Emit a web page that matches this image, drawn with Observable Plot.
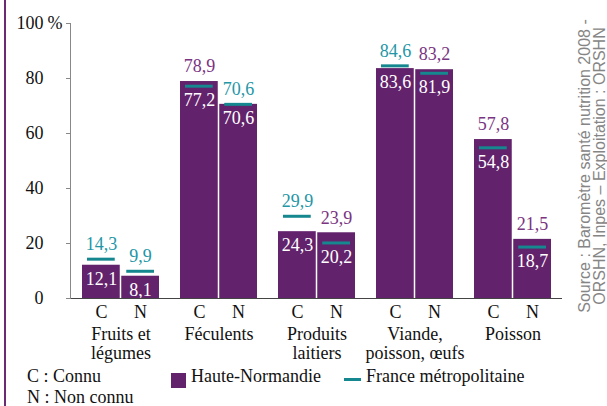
<!DOCTYPE html>
<html>
<head>
<meta charset="utf-8">
<script src="https://cdn.jsdelivr.net/npm/d3@7"></script>
<script src="https://cdn.jsdelivr.net/npm/@observablehq/plot@0.6"></script>
<style>
  html, body { margin: 0; padding: 0; background: #fff; }
  #wrap { position: relative; width: 607px; height: 406px; overflow: hidden; background: #fff;
          font-family: "Liberation Serif", "Times New Roman", serif; color: #111; }
  #wrap > svg { position: absolute; left: 0; top: 0; }
  .lg { position: absolute; font-size: 18px; line-height: 16px; white-space: nowrap; }
  #border { position: absolute; left: 4px; top: 0; width: 2px; height: 406px; background: #6a2a74; }
</style>
</head>
<body>
<div id="wrap">
  <div id="border"></div>
  <div class="lg" style="left:27px; top:368px;">C : Connu</div>
  <div class="lg" style="left:27px; top:389px;">N : Non connu</div>
  <div style="position:absolute; left:171px; top:373px; width:15px; height:15px; background:#63236c;"></div>
  <div class="lg" style="left:191px; top:368px;">Haute-Normandie</div>
  <div style="position:absolute; left:344px; top:378px; width:17px; height:3px; background:#14878f;"></div>
  <div class="lg" style="left:366px; top:368px;">France métropolitaine</div>
</div>
<script>
// ---- data ----
const categories = ["Fruits et légumes", "Féculents", "Produits laitiers", "Viande, poisson, œufs", "Poisson"];
const categoryLabels = ["Fruits et\nlégumes", "Féculents", "Produits\nlaitiers", "Viande,\npoisson, œufs", "Poisson"];
const statusLabels = ["C", "N"];
const hnConnu    = [12.1, 78.9, 24.3, 83.6, 57.8];
const hnNonConnu = [8.1, 70.6, 23.9, 83.2, 21.5];
const frConnu    = [14.3, 77.2, 29.9, 84.6, 54.8];
const frNonConnu = [9.9, 70.6, 20.2, 81.9, 18.7];
const yTicks = [0, 20, 40, 60, 80, 100];
const sourceLines = ["Source : Baromètre santé nutrition 2008 -", "ORSHN, Inpes – Exploitation : ORSHN"];

// ---- styles ----
const purple = "#63236c";
const purpleText = "#7a3482";
const teal = "#14878f";
const tealText = "#2496a6";

const rowsC = categories.map((cat, i) => ({cat, status: "C", hn: hnConnu[i], fr: frConnu[i]}));
const rowsN = categories.map((cat, i) => ({cat, status: "N", hn: hnNonConnu[i], fr: frNonConnu[i]}));
const fmt = v => v.toFixed(1).replace(".", ",");
const hiVal = d => Math.max(d.hn, d.fr);
const loVal = d => Math.min(d.hn, d.fr);
const hiText = d => fmt(d.hn > d.fr ? d.hn : d.fr);
const loText = d => fmt(d.hn > d.fr ? d.fr : d.hn);
const hiFill = d => d.hn > d.fr ? purpleText : tealText;

const half = 39.25, sub = 19.6;

const chart = Plot.plot({
  width: 607,
  height: 406,
  marginLeft: 70,
  marginRight: 45,
  marginTop: 23,
  marginBottom: 108,
  style: {fontFamily: "'Liberation Serif', 'Times New Roman', serif", fontSize: "18px", background: "transparent", color: "#111", overflow: "visible"},
  x: {domain: categories, paddingInner: 0.216, paddingOuter: 0.112, label: null},
  y: {domain: [0, 100], label: null},
  color: {type: "identity"},
  marks: [
    Plot.barY(rowsC, {x: "cat", y: "hn", fill: purple, insetRight: half}),
    Plot.barY(rowsN, {x: "cat", y: "hn", fill: purple, insetLeft: half}),
    Plot.tickY(rowsC, {x: "cat", y: "fr", stroke: teal, strokeWidth: 3, insetLeft: 5, insetRight: half + 5}),
    Plot.tickY(rowsN, {x: "cat", y: "fr", stroke: teal, strokeWidth: 3, insetLeft: half + 5, insetRight: 5}),
    Plot.text(rowsC, {x: "cat", y: hiVal, text: hiText, fill: hiFill, dx: -sub, dy: -15}),
    Plot.text(rowsN, {x: "cat", y: hiVal, text: hiText, fill: hiFill, dx: sub, dy: -15}),
    Plot.text(rowsC, {x: "cat", y: loVal, text: loText, fill: "#ffffff", dx: -sub, dy: 14}),
    Plot.text(rowsN, {x: "cat", y: loVal, text: loText, fill: "#ffffff", dx: sub, dy: 14}),
    Plot.text(rowsC, {x: "cat", y: 0, text: () => statusLabels[0], fill: "#111", dx: -sub, dy: 14}),
    Plot.text(rowsN, {x: "cat", y: 0, text: () => statusLabels[1], fill: "#111", dx: sub, dy: 14}),
    Plot.ruleY([0], {stroke: "#444", strokeWidth: 1.2}),
    Plot.frame({anchor: "left", stroke: "#888"}),
    Plot.axisY(yTicks, {tickSize: 4, tickPadding: 23, stroke: "#888", fill: "#111", tickFormat: d => String(d)}),
    Plot.text([yTicks[yTicks.length - 1]], {y: d => d, text: () => "%", frameAnchor: "left", textAnchor: "start", dx: -23, fill: "#111"}),
    Plot.axisX({tickSize: 0, tickPadding: 27, lineHeight: 1.1, fill: "#111", tickFormat: c => categoryLabels[categories.indexOf(c)]})
  ]
});
document.getElementById("wrap").appendChild(chart);

// rotated source note
const ns = "http://www.w3.org/2000/svg";
const note = document.createElementNS(ns, "svg");
note.setAttribute("width", 607);
note.setAttribute("height", 406);
note.style.position = "absolute";
note.style.left = "0"; note.style.top = "0";
const xs = [590, 605];
sourceLines.forEach((s, i) => {
  const t = document.createElementNS(ns, "text");
  t.setAttribute("transform", `translate(${xs[i]},166) rotate(-90)`);
  t.setAttribute("text-anchor", "middle");
  t.setAttribute("font-family", "'Liberation Sans', Arial, sans-serif");
  t.setAttribute("font-size", "16");
  t.setAttribute("fill", "#858585");
  t.textContent = s;
  note.appendChild(t);
});
document.getElementById("wrap").appendChild(note);
</script>
</body>
</html>
